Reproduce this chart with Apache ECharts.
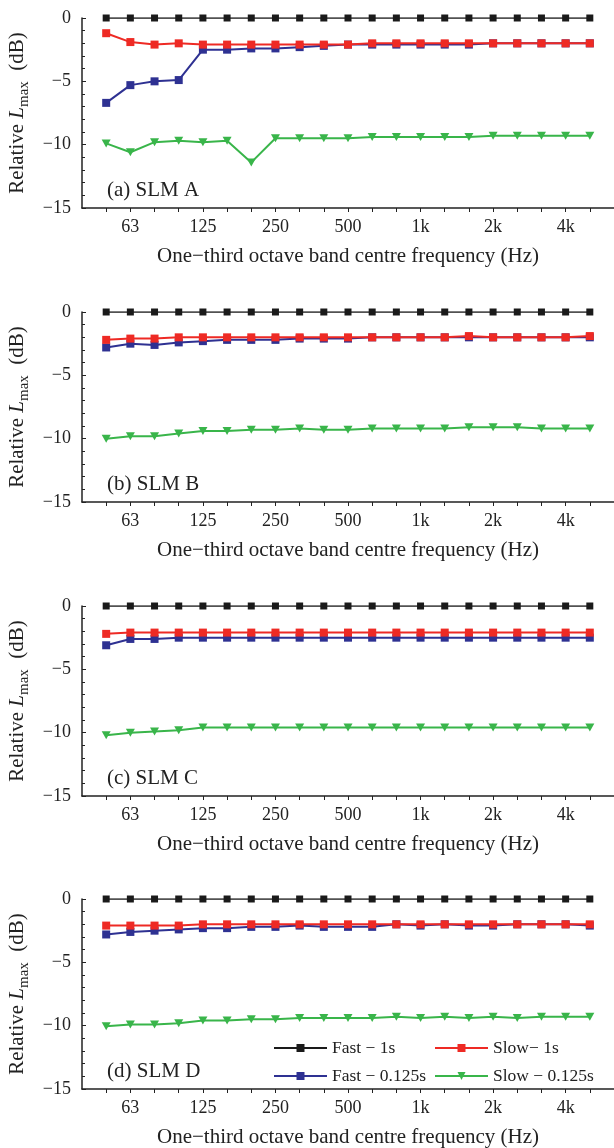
<!DOCTYPE html>
<html>
<head>
<meta charset="utf-8">
<script src="https://cdn.jsdelivr.net/npm/echarts@6/dist/echarts.min.js"></script>
<style>
  html, body { margin: 0; padding: 0; background: #fff; }
  #main { width: 614px; height: 1148px; }
</style>
</head>
<body>
<div id="main"></div>
<script>
// one-third octave bands, 50 Hz .. 5 kHz
const bands = ['50', '63', '80', '100', '125', '160', '200', '250', '315', '400', '500',
  '630', '800', '1k', '1.25k', '1.6k', '2k', '2.5k', '3.15k', '4k', '5k'];
// only these bands get a label on the axis
const labelBands = ['63', '125', '250', '500', '1k', '2k', '4k'];
const yTicks = [0, -5, -10, -15];

const panelNames = ['(a) SLM A', '(b) SLM B', '(c) SLM C', '(d) SLM D'];

// SLM A
const fast1A = [0, 0, 0, 0, 0, 0, 0, 0, 0, 0, 0, 0, 0, 0, 0, 0, 0, 0, 0, 0, 0];
const slow1A = [-1.2, -1.9, -2.1, -2.0, -2.1, -2.1, -2.1, -2.1, -2.1, -2.1, -2.1, -2.0, -2.0, -2.0, -2.0, -2.0, -2.0, -2.0, -2.0, -2.0, -2.0];
const fast125A = [-6.7, -5.3, -5.0, -4.9, -2.5, -2.5, -2.4, -2.4, -2.3, -2.2, -2.1, -2.1, -2.1, -2.1, -2.1, -2.1, -2.0, -2.0, -2.0, -2.0, -2.0];
const slow125A = [-9.9, -10.6, -9.8, -9.7, -9.8, -9.7, -11.4, -9.5, -9.5, -9.5, -9.5, -9.4, -9.4, -9.4, -9.4, -9.4, -9.3, -9.3, -9.3, -9.3, -9.3];

// SLM B
const fast1B = [0, 0, 0, 0, 0, 0, 0, 0, 0, 0, 0, 0, 0, 0, 0, 0, 0, 0, 0, 0, 0];
const slow1B = [-2.2, -2.1, -2.1, -2.0, -2.0, -2.0, -2.0, -2.0, -2.0, -2.0, -2.0, -2.0, -2.0, -2.0, -2.0, -1.9, -2.0, -2.0, -2.0, -2.0, -1.9];
const fast125B = [-2.8, -2.5, -2.6, -2.4, -2.3, -2.2, -2.2, -2.2, -2.1, -2.1, -2.1, -2.0, -2.0, -2.0, -2.0, -2.0, -2.0, -2.0, -2.0, -2.0, -2.0];
const slow125B = [-10.0, -9.8, -9.8, -9.6, -9.4, -9.4, -9.3, -9.3, -9.2, -9.3, -9.3, -9.2, -9.2, -9.2, -9.2, -9.1, -9.1, -9.1, -9.2, -9.2, -9.2];

// SLM C
const fast1C = [0, 0, 0, 0, 0, 0, 0, 0, 0, 0, 0, 0, 0, 0, 0, 0, 0, 0, 0, 0, 0];
const slow1C = [-2.2, -2.1, -2.1, -2.1, -2.1, -2.1, -2.1, -2.1, -2.1, -2.1, -2.1, -2.1, -2.1, -2.1, -2.1, -2.1, -2.1, -2.1, -2.1, -2.1, -2.1];
const fast125C = [-3.1, -2.6, -2.6, -2.5, -2.5, -2.5, -2.5, -2.5, -2.5, -2.5, -2.5, -2.5, -2.5, -2.5, -2.5, -2.5, -2.5, -2.5, -2.5, -2.5, -2.5];
const slow125C = [-10.2, -10.0, -9.9, -9.8, -9.6, -9.6, -9.6, -9.6, -9.6, -9.6, -9.6, -9.6, -9.6, -9.6, -9.6, -9.6, -9.6, -9.6, -9.6, -9.6, -9.6];

// SLM D
const fast1D = [0, 0, 0, 0, 0, 0, 0, 0, 0, 0, 0, 0, 0, 0, 0, 0, 0, 0, 0, 0, 0];
const slow1D = [-2.1, -2.1, -2.1, -2.1, -2.0, -2.0, -2.0, -2.0, -2.0, -2.0, -2.0, -2.0, -2.0, -2.0, -2.0, -2.0, -2.0, -2.0, -2.0, -2.0, -2.0];
const fast125D = [-2.8, -2.6, -2.5, -2.4, -2.3, -2.3, -2.2, -2.2, -2.1, -2.2, -2.2, -2.2, -2.0, -2.1, -2.0, -2.1, -2.1, -2.0, -2.0, -2.0, -2.1];
const slow125D = [-10.05, -9.9, -9.9, -9.8, -9.6, -9.6, -9.5, -9.5, -9.4, -9.4, -9.4, -9.4, -9.3, -9.4, -9.3, -9.4, -9.3, -9.4, -9.3, -9.3, -9.3];

const panels = [
  [fast1A, slow1A, fast125A, slow125A],
  [fast1B, slow1B, fast125B, slow125B],
  [fast1C, slow1C, fast125C, slow125C],
  [fast1D, slow1D, fast125D, slow125D]
];

const FONT = 'Liberation Serif';
const gridTops = [18, 312, 606, 899];

// name, colour, symbol of each series (order in the panels arrays)
const seriesStyle = [
  { name: 'Fast \u2212 1s', color: '#1a1a1a', symbol: 'rect', size: 7, width: 1.5, z: 4 },
  { name: 'Slow\u2212 1s', color: '#ee2a24', symbol: 'rect', size: 8, width: 2, z: 3 },
  { name: 'Fast \u2212 0.125s', color: '#2e3192', symbol: 'rect', size: 8, width: 2, z: 2 },
  { name: 'Slow \u2212 0.125s', color: '#39b54a', symbol: 'triangle', size: [9, 8], width: 2, z: 2 }
];

let grids = [], xAxes = [], yAxes = [], series = [], titles = [];

panels.forEach(function (panel, p) {
  grids.push({ left: 82, right: 0, top: gridTops[p], height: 190, outerBoundsMode: 'none', containLabel: false });
  titles.push({
    text: panelNames[p],
    left: 107,
    top: gridTops[p] + 162,
    padding: 0,
    textStyle: { fontFamily: FONT, fontSize: 21, fontWeight: 'normal', color: '#222' }
  });
  xAxes.push({
    type: 'value',
    gridIndex: p,
    min: -1,
    max: 21,
    interval: 1,
    splitLine: { show: false },
    axisLine: { onZero: false, lineStyle: { color: '#222', width: 1.5 } },
    axisTick: {
      length: 4,
      lineStyle: { color: '#222' },
      customValues: bands.map(function (b, i) { return i; })
    },
    axisLabel: {
      customValues: labelBands.map(function (b) { return bands.indexOf(b); }),
      formatter: function (v) { return bands[v]; },
      fontFamily: FONT,
      fontSize: 18,
      color: '#222',
      margin: 10
    },
    name: 'One\u2212third octave band centre frequency (Hz)',
    nameLocation: 'middle',
    nameGap: 38,
    nameTextStyle: { fontFamily: FONT, fontSize: 21, color: '#222' }
  });
  yAxes.push({
    type: 'value',
    gridIndex: p,
    min: -15,
    max: 0,
    interval: 5,
    splitLine: { show: false },
    axisLine: { show: true, onZero: false, lineStyle: { color: '#222', width: 1.5 } },
    axisTick: { inside: true, length: 4, lineStyle: { color: '#222' } },
    minorTick: { show: true, splitNumber: 5, length: 3, lineStyle: { color: '#222' } },
    axisLabel: {
      customValues: yTicks,
      formatter: function (v) { return String(v).replace('-', '\u2212'); },
      fontFamily: FONT,
      fontSize: 18,
      color: '#222',
      margin: 11
    },
    name: '{a|Relative }{l|L}{s|max}{a|  (dB)}',
    nameLocation: 'middle',
    nameGap: 48,
    nameRotate: 90,
    nameTextStyle: {
      rich: {
        a: { fontFamily: FONT, fontSize: 21, color: '#222', lineHeight: 25 },
        l: { fontFamily: FONT, fontSize: 21, fontStyle: 'italic', color: '#222', lineHeight: 25 },
        s: { fontFamily: FONT, fontSize: 15, color: '#222', lineHeight: 25, padding: [14, 0, 0, 0] }
      }
    }
  });
  panel.forEach(function (vals, k) {
    const st = seriesStyle[k];
    series.push({
      name: st.name,
      type: 'line',
      xAxisIndex: p,
      yAxisIndex: p,
      z: st.z,
      symbol: st.symbol,
      symbolSize: st.size,
      symbolRotate: st.symbol === 'triangle' ? 180 : 0,
      showAllSymbol: true,
      animation: false,
      lineStyle: { color: st.color, width: st.width },
      itemStyle: { color: st.color },
      data: vals.map(function (v, i) { return [i, v]; })
    });
  });
});

const legendText = { fontFamily: FONT, fontSize: 17.5, color: '#222' };

const option = {
  backgroundColor: '#fff',
  animation: false,
  title: titles,
  grid: grids,
  xAxis: xAxes,
  yAxis: yAxes,
  legend: [
    {
      orient: 'vertical', left: 273, top: 1039, padding: 0,
      itemWidth: 53, itemHeight: 10, itemGap: 10,
      textStyle: legendText,
      data: [seriesStyle[0].name, seriesStyle[2].name]
    },
    {
      orient: 'vertical', left: 434, top: 1039, padding: 0,
      itemWidth: 53, itemHeight: 10, itemGap: 10,
      textStyle: legendText,
      data: [seriesStyle[1].name, seriesStyle[3].name]
    }
  ],
  series: series
};

const chart = echarts.init(document.getElementById('main'));
chart.setOption(option);
</script>
</body>
</html>
